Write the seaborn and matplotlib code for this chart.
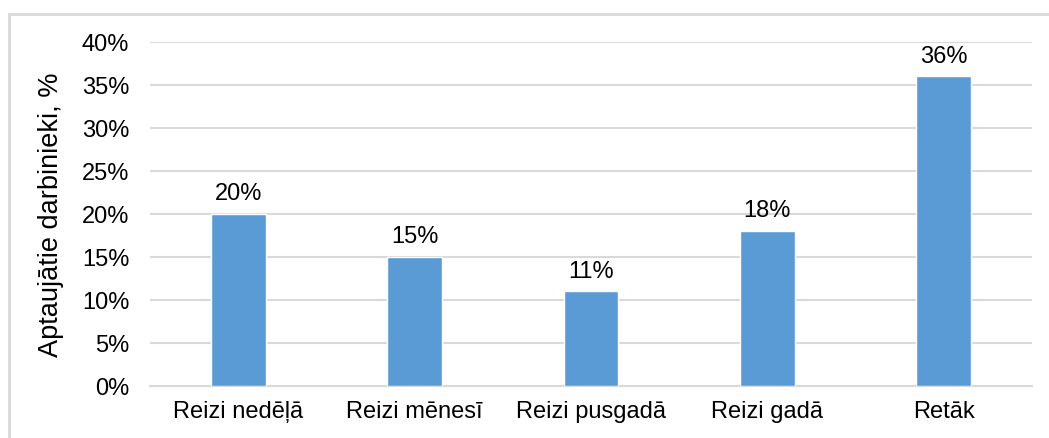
import matplotlib
matplotlib.use("Agg")
import matplotlib.pyplot as plt
import seaborn as sns
import pandas as pd
from matplotlib.patches import Rectangle

categories = ["Reizi nedēļā", "Reizi mēnesī", "Reizi pusgadā", "Reizi gadā", "Retāk"]
values = [20, 15, 11, 18, 36]
y_ticks = [0, 5, 10, 15, 20, 25, 30, 35, 40]
y_label = "Aptaujātie darbinieki, %"

sns.set_theme(style="white")
plt.rcParams['font.family'] = ['Liberation Sans', 'DejaVu Sans']

df = pd.DataFrame({"cat": categories, "val": values})

fig = plt.figure(figsize=(10.49, 4.39), dpi=100)
ax = fig.add_axes([150/1049, 1 - 387/439, (1032-150)/1049, (387-43)/439])

sns.barplot(data=df, x="cat", y="val", color="#5b9bd5", saturation=1, width=0.31, ax=ax, zorder=3)

ax.set_ylim(0, 40)
ax.set_yticks(y_ticks)
ax.set_yticklabels([f"{t}%" for t in y_ticks])
ax.set_xlim(-0.5, len(categories) - 0.5)
ax.yaxis.grid(True, color="#d9d9d9", linewidth=1.5, zorder=0)
ax.set_axisbelow(True)
for s in ["top", "right", "left"]:
    ax.spines[s].set_visible(False)
ax.spines["bottom"].set_color("#d9d9d9")
ax.spines["bottom"].set_linewidth(1.5)
ax.tick_params(axis="both", length=0, labelsize=17, colors="black")
ax.tick_params(axis="y", pad=15)
ax.tick_params(axis="x", pad=10)
ax.set_xlabel("")
ax.set_ylabel(y_label, fontsize=19.5, color="black", labelpad=13)

for i, v in enumerate(values):
    ax.annotate(f"{v}%", (i, v), xytext=(0, 7), textcoords="offset points",
                ha="center", va="bottom", fontsize=17, color="black")

fig.patches.append(Rectangle((9/1049, -0.1), 1.2, 1.1 - 15/439, transform=fig.transFigure,
                             fill=False, edgecolor="#d9d9d9", linewidth=2, zorder=10))

fig.savefig("out.png", dpi=100)
